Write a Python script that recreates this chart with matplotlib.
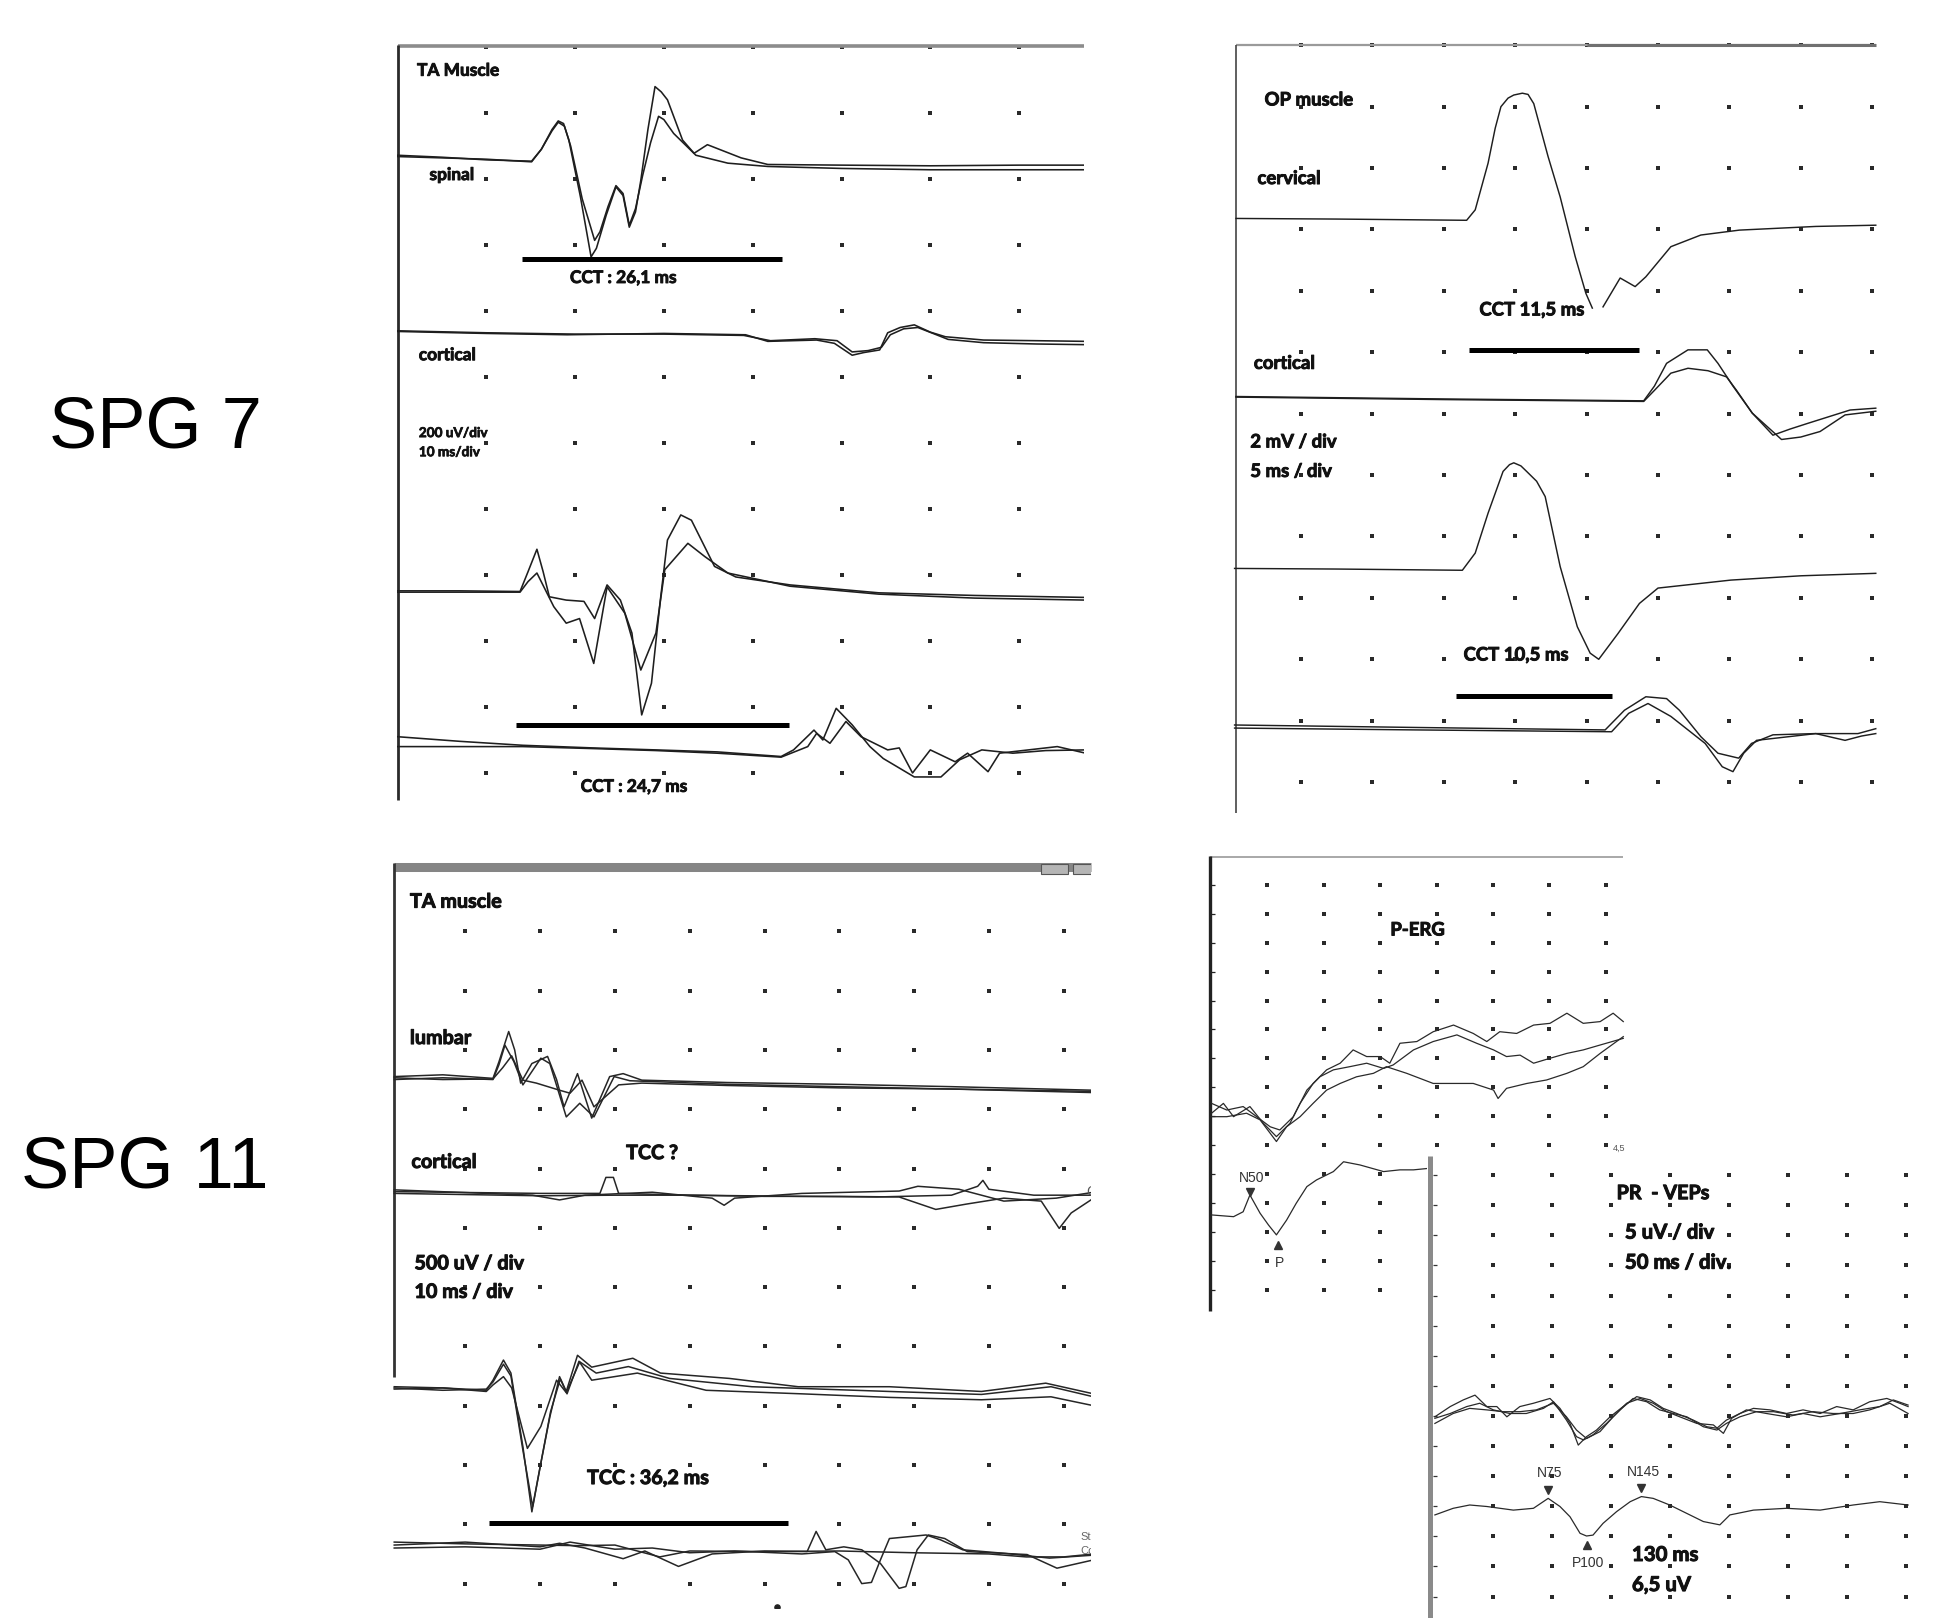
import numpy as np
import matplotlib.pyplot as plt
import matplotlib.patheffects as pe
from matplotlib import font_manager
from matplotlib.patches import Rectangle

W, H = 1937, 1618


def weight_of(f):
    w = f.weight
    if isinstance(w, str):
        w = font_manager.weight_dict.get(w, 400)
    return w


bold_fonts = {f.name for f in font_manager.fontManager.ttflist if weight_of(f) >= 600}
all_fonts = {f.name for f in font_manager.fontManager.ttflist}
BOLD, SCALE = 'DejaVu Sans', 0.78
for name, sc in [('Lato', 0.89), ('Roboto', 0.88), ('Open Sans', 0.82), ('Noto Sans', 0.82),
                 ('Liberation Sans Narrow', 1.0)]:
    if name in bold_fonts:
        BOLD, SCALE = name, sc
        break
PLAIN = 'Liberation Sans' if 'Liberation Sans' in all_fonts else 'DejaVu Sans'

# ---------------------------------------------------------------
# traces: (x, y) in grid divisions,
# x to the right from the panel origin, y downwards from the top border
# ---------------------------------------------------------------

# SPG 7 - TA muscle (200 uV/div, 10 ms/div)
spinal_a = [(0.0, 1.66), (0.5, 1.68), (1.0, 1.70), (1.51, 1.74), (1.62, 1.55), (1.74, 1.25), (1.81, 1.12),
            (1.87, 1.16), (1.93, 1.41), (2.06, 2.27), (2.18, 3.18), (2.24, 3.05), (2.35, 2.55), (2.46, 2.12),
            (2.54, 2.25), (2.61, 2.73), (2.68, 2.50), (2.74, 2.02), (2.82, 1.25), (2.90, 0.60), (2.97, 0.68),
            (3.04, 0.80), (3.21, 1.41), (3.34, 1.61), (3.49, 1.48), (3.87, 1.68), (4.17, 1.78), (5.0, 1.79),
            (6.0, 1.80), (7.0, 1.79), (7.75, 1.79)]
spinal_b = [(0.0, 1.64), (0.5, 1.67), (1.0, 1.71), (1.51, 1.73), (1.62, 1.55), (1.74, 1.27), (1.81, 1.14),
            (1.88, 1.20), (1.95, 1.50), (2.08, 2.30), (2.22, 2.93), (2.28, 2.80), (2.37, 2.42), (2.46, 2.10),
            (2.54, 2.22), (2.61, 2.70), (2.68, 2.45), (2.76, 1.95), (2.85, 1.45), (2.94, 1.05), (3.00, 1.10),
            (3.11, 1.31), (3.36, 1.64), (3.72, 1.76), (4.17, 1.81), (5.0, 1.84), (6.0, 1.86), (7.0, 1.86),
            (7.75, 1.86)]
cort7_a = [(0.0, 4.31), (1.0, 4.34), (1.91, 4.36), (3.0, 4.34), (3.92, 4.36), (4.17, 4.46), (4.72, 4.44),
           (4.92, 4.49), (5.12, 4.67), (5.25, 4.63), (5.43, 4.59), (5.52, 4.33), (5.66, 4.25), (5.82, 4.21),
           (6.0, 4.32), (6.17, 4.39), (6.6, 4.44), (7.2, 4.45), (7.75, 4.46)]
cort7_b = [(0.0, 4.30), (1.0, 4.33), (2.0, 4.35), (3.0, 4.35), (3.9, 4.37), (4.2, 4.45), (4.7, 4.42),
           (4.95, 4.45), (5.12, 4.62), (5.3, 4.60), (5.45, 4.55), (5.55, 4.36), (5.7, 4.27), (5.86, 4.25),
           (6.05, 4.35), (6.2, 4.43), (6.6, 4.48), (7.2, 4.50), (7.75, 4.51)]
spinal2_a = [(0.0, 8.24), (0.7, 8.24), (1.38, 8.25), (1.47, 7.95), (1.57, 7.61), (1.64, 7.95), (1.71, 8.33),
             (1.90, 8.38), (2.10, 8.40), (2.22, 8.66), (2.36, 8.15), (2.51, 8.38), (2.64, 8.88), (2.75, 10.12),
             (2.86, 9.64), (2.96, 8.38), (3.04, 7.47), (3.19, 7.09), (3.31, 7.17), (3.57, 7.87), (3.81, 8.03),
             (4.42, 8.15), (5.42, 8.27), (6.5, 8.31), (7.75, 8.34)]
spinal2_b = [(0.0, 8.26), (0.7, 8.26), (1.38, 8.26), (1.47, 8.10), (1.57, 7.97), (1.76, 8.48), (1.90, 8.73),
             (2.05, 8.66), (2.21, 9.34), (2.36, 8.18), (2.56, 8.58), (2.74, 9.44), (2.91, 8.88), (3.01, 7.92),
             (3.27, 7.52), (3.46, 7.72), (3.72, 7.97), (4.42, 8.17), (5.42, 8.29), (6.5, 8.35), (7.75, 8.38)]
cort7c_a = [(0.0, 10.45), (0.7, 10.52), (1.41, 10.58), (2.2, 10.62), (2.91, 10.65), (3.6, 10.68), (4.32, 10.75),
            (4.46, 10.65), (4.69, 10.35), (4.79, 10.50), (4.94, 10.02), (5.12, 10.27), (5.32, 10.60),
            (5.47, 10.78), (5.82, 11.06), (6.12, 11.06), (6.33, 10.80), (6.58, 10.65), (6.93, 10.70),
            (7.3, 10.66), (7.75, 10.65)]
cort7c_b = [(0.0, 10.60), (0.7, 10.60), (1.41, 10.60), (2.2, 10.63), (2.91, 10.66), (3.6, 10.70), (4.32, 10.76),
            (4.62, 10.60), (4.72, 10.40), (4.87, 10.55), (5.05, 10.22), (5.22, 10.45), (5.52, 10.65),
            (5.65, 10.62), (5.80, 11.00), (6.00, 10.65), (6.28, 10.83), (6.42, 10.70), (6.65, 10.98),
            (6.78, 10.70), (7.43, 10.60), (7.75, 10.70)]
cct_ta7 = [(1.40, 4.33, 3.21), (1.33, 4.41, 10.27)]   # (start, end, level)

# SPG 7 - OP muscle (2 mV/div, 5 ms/div)
cerv_1 = [(0.09, 2.82), (1.5, 2.83), (3.32, 2.85), (3.44, 2.68), (3.62, 1.92), (3.72, 1.35), (3.80, 1.00),
          (3.90, 0.86), (3.98, 0.81), (4.10, 0.78), (4.18, 0.80), (4.26, 0.95), (4.46, 1.81), (4.63, 2.47),
          (4.84, 3.44), (4.99, 4.04), (5.08, 4.28)]
cerv_2 = [(5.23, 4.26), (5.47, 3.79), (5.68, 3.93), (5.83, 3.77), (6.18, 3.28), (6.60, 3.09), (7.14, 3.01),
          (8.21, 2.95), (9.05, 2.93)]
cortop_a = [(0.09, 5.72), (3.0, 5.76), (5.80, 5.79), (5.95, 5.55), (6.12, 5.18), (6.42, 4.96), (6.69, 4.96),
            (6.84, 5.18), (7.05, 5.55), (7.32, 5.99), (7.61, 6.35), (7.85, 6.25), (8.09, 6.16), (8.69, 5.94),
            (9.05, 5.91)]
cortop_b = [(0.09, 5.73), (3.0, 5.77), (5.80, 5.80), (5.95, 5.62), (6.18, 5.34), (6.42, 5.26), (6.70, 5.30),
            (6.96, 5.40), (7.10, 5.62), (7.32, 5.99), (7.73, 6.42), (8.0, 6.38), (8.27, 6.29), (8.62, 6.02),
            (9.05, 5.96)]
cerv2 = [(0.07, 8.52), (1.5, 8.53), (3.26, 8.55), (3.44, 8.27), (3.62, 7.62), (3.83, 6.94), (3.92, 6.83),
         (3.98, 6.80), (4.08, 6.85), (4.16, 6.94), (4.30, 7.10), (4.42, 7.35), (4.63, 8.49), (4.87, 9.47),
         (5.05, 9.90), (5.17, 10.00), (5.44, 9.58), (5.74, 9.09), (6.00, 8.84), (7.02, 8.71), (8.0, 8.64),
         (9.05, 8.60)]
cortop2_a = [(0.07, 11.07), (2.6, 11.11), (5.26, 11.15), (5.53, 10.83), (5.83, 10.61), (6.12, 10.64),
             (6.30, 10.83), (6.60, 11.26), (6.84, 11.53), (7.13, 11.61), (7.31, 11.37), (7.61, 11.23),
             (8.2, 11.21), (8.80, 11.21), (9.05, 11.13)]
cortop2_b = [(0.07, 11.12), (2.6, 11.15), (5.35, 11.18), (5.59, 10.88), (5.86, 10.72), (6.18, 10.93),
             (6.66, 11.37), (6.90, 11.75), (7.05, 11.83), (7.20, 11.53), (7.38, 11.32), (8.21, 11.21),
             (8.62, 11.32), (8.85, 11.25), (9.05, 11.21)]
cct_op7 = [(3.35, 5.73, 4.97), (3.17, 5.35, 10.60)]

# SPG 11 - TA muscle (500 uV/div, 10 ms/div)
lumbar_a = [(0.05, 3.45), (0.7, 3.42), (1.37, 3.48), (1.45, 3.20), (1.58, 2.69), (1.66, 3.00), (1.74, 3.56),
            (1.89, 3.23), (2.10, 3.11), (2.22, 3.50), (2.32, 3.96), (2.50, 3.40), (2.69, 4.15), (2.93, 3.45),
            (3.11, 3.40), (3.36, 3.51), (4.5, 3.55), (6.0, 3.58), (7.5, 3.62), (9.40, 3.68)]
lumbar_b = [(0.05, 3.50), (0.7, 3.47), (1.37, 3.50), (1.45, 3.25), (1.53, 2.92), (1.65, 3.20), (1.77, 3.59),
            (2.01, 3.14), (2.13, 3.23), (2.35, 4.13), (2.53, 3.90), (2.72, 4.13), (2.99, 3.45), (3.20, 3.52),
            (4.5, 3.58), (6.0, 3.62), (7.5, 3.66), (9.40, 3.72)]
lumbar_c = [(0.05, 3.47), (0.7, 3.50), (1.37, 3.49), (1.50, 3.30), (1.62, 3.10), (1.77, 3.51), (1.95, 3.56),
            (2.26, 3.68), (2.40, 3.73), (2.56, 3.51), (2.72, 3.96), (3.05, 3.59), (3.36, 3.56), (4.5, 3.60),
            (6.0, 3.64), (7.5, 3.66), (9.40, 3.70)]
cort11_a = [(0.05, 5.39), (2.0, 5.42), (2.80, 5.42), (2.88, 5.15), (2.98, 5.15), (3.05, 5.42), (4.0, 5.45),
            (5.5, 5.47), (6.5, 5.48), (7.5, 5.45), (7.85, 5.30), (7.92, 5.20), (8.0, 5.35), (8.6, 5.45),
            (9.40, 5.45)]
cort11_b = [(0.05, 5.36), (1.9, 5.45), (2.26, 5.53), (2.6, 5.45), (3.5, 5.40), (4.3, 5.50), (4.46, 5.62),
            (4.6, 5.50), (5.5, 5.42), (6.8, 5.38), (7.05, 5.30), (7.6, 5.35), (8.2, 5.55), (8.9, 5.50),
            (9.40, 5.40)]
cort11_c = [(0.05, 5.42), (2.0, 5.46), (3.0, 5.45), (4.0, 5.45), (5.0, 5.47), (6.0, 5.47), (6.8, 5.48),
            (7.29, 5.69), (7.7, 5.60), (8.2, 5.50), (8.7, 5.55), (8.94, 6.01), (9.1, 5.75), (9.40, 5.50)]
lumbar2_a = [(0.05, 8.68), (0.7, 8.70), (1.28, 8.74), (1.37, 8.57), (1.51, 8.23), (1.61, 8.45), (1.77, 9.69),
             (1.89, 10.79), (2.01, 9.97), (2.13, 9.19), (2.26, 8.51), (2.35, 8.76), (2.50, 8.15), (2.69, 8.35),
             (3.24, 8.20), (3.61, 8.45), (4.53, 8.54), (5.45, 8.68), (6.67, 8.68), (7.90, 8.76), (8.76, 8.62),
             (9.40, 8.80)]
lumbar2_b = [(0.05, 8.72), (0.7, 8.70), (1.28, 8.76), (1.37, 8.65), (1.51, 8.51), (1.62, 8.70), (1.83, 9.72),
             (2.01, 9.35), (2.22, 8.57), (2.35, 8.78), (2.53, 8.26), (2.75, 8.45), (3.18, 8.34), (3.73, 8.54),
             (4.83, 8.68), (6.67, 8.76), (7.90, 8.81), (8.83, 8.68), (9.40, 8.85)]
lumbar2_c = [(0.05, 8.70), (0.7, 8.74), (1.28, 8.72), (1.37, 8.60), (1.51, 8.30), (1.61, 8.50), (1.77, 9.75),
             (1.90, 10.70), (2.02, 9.90), (2.14, 9.10), (2.27, 8.55), (2.36, 8.80), (2.52, 8.25), (2.69, 8.57),
             (3.3, 8.45), (4.22, 8.74), (5.5, 8.80), (6.67, 8.86), (7.90, 8.90), (8.83, 8.85), (9.40, 9.00)]
cort11c_a = [(0.05, 11.35), (1.0, 11.30), (2.0, 11.38), (2.26, 11.32), (2.6, 11.40), (3.11, 11.58),
             (3.4, 11.45), (3.85, 11.71), (4.3, 11.50), (5.0, 11.45), (5.57, 11.46), (5.69, 11.12),
             (5.82, 11.43), (6.06, 11.38), (6.30, 11.43), (6.55, 11.66), (6.80, 12.08), (6.89, 12.05),
             (7.04, 11.43), (7.19, 11.18), (7.41, 11.24), (7.71, 11.46), (8.51, 11.51), (8.91, 11.74),
             (9.40, 11.60)]
cort11c_b = [(0.05, 11.40), (1.0, 11.38), (2.0, 11.42), (2.4, 11.30), (3.0, 11.42), (3.5, 11.40), (4.0, 11.48),
             (4.6, 11.45), (5.5, 11.50), (5.94, 11.46), (6.12, 11.60), (6.30, 12.00), (6.43, 11.98),
             (6.55, 11.60), (6.67, 11.24), (7.16, 11.18), (7.35, 11.26), (7.65, 11.43), (8.21, 11.49),
             (8.81, 11.57), (9.40, 11.52)]
cort11c_c = [(0.05, 11.30), (1.0, 11.33), (2.0, 11.35), (2.5, 11.36), (3.0, 11.35), (3.6, 11.55), (4.0, 11.45),
             (5.0, 11.46), (6.0, 11.45), (7.0, 11.48), (8.0, 11.50), (8.5, 11.55), (9.0, 11.55), (9.40, 11.50)]
tcc_ta11 = [(1.32, 5.31, 10.98)]

# SPG 11 - pattern ERG
perg_a = [(0.01, 8.90), (0.22, 8.56), (0.40, 9.02), (0.69, 8.67), (0.93, 9.25), (1.16, 9.71), (1.40, 9.25),
          (1.58, 8.56), (1.81, 7.87), (2.05, 7.40), (2.29, 7.17), (2.52, 6.71), (2.76, 6.94), (3.00, 6.94),
          (3.17, 7.17), (3.35, 6.48), (3.65, 6.42), (3.94, 6.08), (4.30, 5.85), (4.65, 6.14), (4.89, 6.42),
          (5.12, 6.08), (5.42, 6.14), (5.72, 5.85), (6.01, 5.79), (6.31, 5.44), (6.60, 5.79), (6.90, 5.73),
          (7.13, 5.44), (7.31, 5.73)]
perg_b = [(0.01, 8.56), (0.28, 8.79), (0.57, 8.67), (0.81, 9.02), (1.05, 9.37), (1.22, 9.48), (1.46, 9.02),
          (1.70, 8.10), (1.93, 7.64), (2.17, 7.40), (2.46, 7.29), (2.76, 7.17), (3.06, 7.35), (3.23, 7.23),
          (3.59, 6.71), (3.94, 6.42), (4.36, 6.19), (4.71, 6.48), (5.01, 6.71), (5.24, 6.94), (5.48, 6.89),
          (5.72, 7.17), (6.01, 7.00), (6.31, 6.83), (6.60, 6.71), (6.90, 6.54), (7.31, 6.31)]
perg_c = [(0.01, 9.02), (0.28, 9.02), (0.63, 8.90), (0.87, 9.13), (1.16, 9.88), (1.34, 9.37), (1.58, 9.02),
          (1.81, 8.56), (2.05, 8.10), (2.29, 7.87), (2.58, 7.64), (2.88, 7.52), (3.11, 7.29), (3.47, 7.52),
          (3.94, 7.87), (4.30, 7.87), (4.65, 7.87), (5.01, 8.10), (5.09, 8.39), (5.24, 8.04), (5.60, 7.87),
          (5.95, 7.75), (6.31, 7.52), (6.60, 7.29), (6.90, 6.83), (7.31, 6.25)]
perg_avg = [(0.01, 12.42), (0.40, 12.48), (0.57, 12.31), (0.69, 11.73), (0.87, 12.36), (1.02, 12.77),
            (1.16, 13.11), (1.34, 12.60), (1.51, 12.02), (1.70, 11.44), (1.87, 11.21), (2.17, 10.92),
            (2.35, 10.58), (2.64, 10.69), (3.06, 10.92), (3.35, 10.86), (3.59, 10.86), (3.85, 10.81)]
perg_peaks = [('N50', 0.69, 11.61, 'v'), ('P', 1.18, 13.46, '^')]

# SPG 11 - pattern reversal VEPs (5 uV/div, 50 ms/div)
vep_a = [(0.01, 9.03), (0.27, 8.69), (0.49, 8.47), (0.69, 8.31), (0.89, 8.69), (1.06, 8.69), (1.23, 9.03),
         (1.45, 8.69), (1.68, 8.58), (1.96, 8.42), (2.13, 8.75), (2.30, 9.25), (2.44, 9.97), (2.58, 9.69),
         (2.75, 9.47), (2.98, 9.03), (3.20, 8.69), (3.43, 8.36), (3.66, 8.47), (3.88, 8.75), (4.11, 8.92),
         (4.39, 9.14), (4.62, 9.36), (4.79, 9.41), (4.95, 9.14), (5.18, 8.92), (5.41, 8.75), (5.69, 8.80),
         (5.97, 8.92), (6.25, 8.80), (6.54, 8.92), (6.82, 8.69), (7.10, 8.80), (7.38, 8.53), (7.67, 8.42),
         (7.89, 8.58), (8.03, 8.69)]
vep_b = [(0.01, 9.25), (0.32, 8.92), (0.60, 8.75), (0.89, 8.80), (1.17, 8.86), (1.45, 8.86), (1.73, 8.80),
         (2.02, 8.58), (2.24, 9.03), (2.41, 9.47), (2.58, 9.75), (2.81, 9.52), (3.03, 9.03), (3.26, 8.58),
         (3.49, 8.42), (3.71, 8.58), (3.94, 8.86), (4.16, 9.03), (4.45, 9.25), (4.73, 9.30), (4.90, 9.58),
         (5.04, 9.08), (5.29, 8.80), (5.63, 8.92), (5.97, 9.03), (6.25, 8.92), (6.54, 9.03), (6.88, 8.92),
         (7.21, 8.80), (7.55, 8.69), (7.78, 8.47), (8.03, 8.64)]
vep_c = [(0.01, 9.08), (0.27, 8.92), (0.55, 8.69), (0.77, 8.58), (1.00, 8.80), (1.28, 8.92), (1.56, 8.92),
         (1.85, 8.75), (2.02, 8.53), (2.24, 9.14), (2.41, 9.69), (2.53, 9.80), (2.69, 9.63), (2.92, 9.25),
         (3.15, 8.80), (3.37, 8.42), (3.60, 8.53), (3.82, 8.80), (4.05, 8.92), (4.28, 9.03), (4.56, 9.36),
         (4.79, 9.47), (4.95, 9.25), (5.18, 9.03), (5.46, 8.86), (5.75, 8.86), (6.08, 8.97), (6.42, 8.86),
         (6.76, 8.92), (7.10, 8.92), (7.38, 8.80), (7.72, 8.58), (8.03, 8.92)]
vep_avg = [(0.01, 12.29), (0.32, 12.07), (0.60, 11.96), (0.89, 12.01), (1.34, 12.13), (1.68, 12.07),
           (1.93, 11.74), (2.13, 12.01), (2.30, 12.35), (2.47, 12.90), (2.58, 12.99), (2.69, 12.96),
           (2.86, 12.57), (3.09, 12.18), (3.32, 11.85), (3.51, 11.68), (3.71, 11.74), (3.99, 11.96),
           (4.28, 12.24), (4.56, 12.51), (4.84, 12.62), (5.01, 12.29), (5.41, 12.13), (5.97, 12.07),
           (6.54, 12.13), (7.10, 11.96), (7.55, 11.85), (8.03, 11.96)]
vep_peaks = [('N75', 1.92, 11.46, 'v'), ('N145', 3.51, 11.41, 'v'), ('P100', 2.58, 13.29, '^')]

# ---------------------------------------------------------------

fig = plt.figure(figsize=(W / 100, H / 100), dpi=100)
fig.patch.set_facecolor('white')


def panel(box, origin, div):
    L, T, R, B = box
    ax = fig.add_axes([L / W, 1 - B / H, (R - L) / W, (B - T) / H])
    ax.set_xlim((L - origin[0]) / div[0], (R - origin[0]) / div[0])
    ax.set_ylim((B - origin[1]) / div[1], (T - origin[1]) / div[1])
    ax.set_xticks([])
    ax.set_yticks([])
    for s in ax.spines.values():
        s.set_visible(False)
    ax.set_facecolor('white')
    return ax


def dots(ax, ncol, row0, row1):
    gx, gy = np.meshgrid(np.arange(1, ncol + 1), np.arange(row0, row1 + 1))
    ax.scatter(gx.ravel(), gy.ravel(), s=5.5, marker='s', color='#2a2a2a', linewidths=0, zorder=1)


def trace(ax, pts, lw=1.05, color='#1e1e1e'):
    xs, ys = zip(*pts)
    ax.plot(xs, ys, color=color, lw=lw, solid_joinstyle='round', zorder=3)


def bars(ax, spans):
    for x0, x1, y in spans:
        ax.plot([x0, x1], [y, y], color='black', lw=3.6, solid_capstyle='butt', zorder=4)


def label(ax, x, y, s, size, ha='left'):
    stroke = [pe.withStroke(linewidth=0.045 * size, foreground='#111111')]
    ax.text(x, y, s, fontsize=size * SCALE, family=[BOLD, 'DejaVu Sans'], fontweight='bold',
            ha=ha, va='center', color='#111111', zorder=5, path_effects=stroke)


def line(ax, xs, ys, color, lw):
    ax.plot(xs, ys, color=color, lw=lw, solid_capstyle='butt', clip_on=False, zorder=2)


# ---- SPG 7, TA muscle ----
axA = panel((397, 44, 1084, 806), (397.5, 47), (88.8, 66))
dots(axA, 7, 0, 11)
line(axA, [0.0, 7.73], [-0.02, -0.02], '#8c8c8c', 2.6)
line(axA, [0.006, 0.006], [-0.03, 11.41], '#2a2a2a', 2.0)
for pts in (spinal_a, spinal_b, cort7_a, cort7_b, spinal2_a, spinal2_b, cort7c_a, cort7c_b):
    trace(axA, pts, lw=1.15)
bars(axA, cct_ta7)
label(axA, 0.22, 0.36, 'TA Muscle', 14)
label(axA, 0.36, 1.94, 'spinal', 14)
label(axA, 2.54, 3.50, 'CCT : 26,1 ms', 14, ha='center')
label(axA, 0.24, 4.67, 'cortical', 14)
label(axA, 0.24, 5.85, '200 uV/div', 11)
label(axA, 0.24, 6.14, '10 ms/div', 11)
label(axA, 2.66, 11.21, 'CCT : 24,7 ms', 14, ha='center')

# ---- SPG 7, OP muscle ----
axB = panel((1233, 43, 1877, 818), (1229.6, 45.3), (71.4, 61.4))
dots(axB, 9, 0, 12)
line(axB, [0.09, 9.05], [0.0, 0.0], '#9a9a9a', 1.6)
line(axB, [5.0, 9.05], [0.0, 0.0], '#707070', 2.2)
line(axB, [0.09, 0.09], [0.0, 12.5], '#444444', 1.2)
for pts in (cerv_1, cerv_2, cortop_a, cortop_b, cerv2, cortop2_a, cortop2_b):
    trace(axB, pts)
bars(axB, cct_op7)
label(axB, 0.49, 0.89, 'OP muscle', 15)
label(axB, 0.39, 2.17, 'cervical', 15)
label(axB, 4.23, 4.31, 'CCT 11,5 ms', 15, ha='center')
label(axB, 0.34, 5.18, 'cortical', 15)
label(axB, 0.29, 6.46, '2 mV / div', 15)
label(axB, 0.29, 6.94, '5 ms / div', 15)
label(axB, 4.01, 9.93, 'CCT 10,5 ms', 15, ha='center')

# ---- SPG 11, TA muscle ----
axC = panel((391, 861, 1091, 1608), (390.5, 872), (74.8, 59.3))
dots(axC, 9, 1, 12)
line(axC, [0.05, 9.37], [-0.084, -0.084], '#858585', 6.5)
line(axC, [0.05, 0.05], [-0.15, 8.52], '#333333', 2.0)
axC.add_patch(Rectangle((8.70, -0.135), 0.36, 0.17, facecolor='#b5b5b5', edgecolor='#555555', lw=0.8,
                        zorder=3, clip_on=False))
axC.add_patch(Rectangle((9.12, -0.135), 0.30, 0.17, facecolor='#b5b5b5', edgecolor='#555555', lw=0.8,
                        zorder=3, clip_on=True))
for pts in (lumbar_a, lumbar_b, lumbar_c, cort11_a, cort11_b, cort11_c,
            lumbar2_a, lumbar2_b, lumbar2_c, cort11c_a, cort11c_b, cort11c_c):
    trace(axC, pts, lw=1.1, color='#262626')
bars(axC, tcc_ta11)
axC.scatter([5.17], [12.39], s=14, color='#222222', zorder=3)
label(axC, 0.26, 0.50, 'TA muscle', 16)
label(axC, 0.26, 2.80, 'lumbar', 16)
label(axC, 0.28, 4.89, 'cortical', 16)
label(axC, 3.15, 4.74, 'TCC ?', 16)
label(axC, 0.32, 6.60, '500 uV / div', 16)
label(axC, 0.32, 7.08, '10 ms / div', 16)
label(axC, 3.44, 10.22, 'TCC : 36,2 ms', 16, ha='center')
axC.text(9.30, 5.40, 'C', fontsize=10, family=PLAIN, color='#555555', va='center', clip_on=True)
axC.text(9.22, 11.22, 'St', fontsize=8, family=PLAIN, color='#666666', va='center', clip_on=True)
axC.text(9.22, 11.45, 'Co', fontsize=8, family=PLAIN, color='#666666', va='center', clip_on=True)

# ---- SPG 11, P-ERG ----
axD = panel((1207, 854, 1626, 1318), (1211, 856), (56.4, 28.9))
dots(axD, 7, 1, 15)
line(axD, [-0.02, 7.30], [0.03, 0.03], '#9a9a9a', 1.2)
line(axD, [-0.02, -0.02], [0.0, 15.76], '#222222', 2.4)
for r in range(1, 16):
    line(axD, [-0.02, 0.07], [r, r], '#222222', 0.9)
for pts in (perg_a, perg_b, perg_c):
    trace(axD, pts, lw=0.9, color='#2a2a2a')
trace(axD, perg_avg, lw=0.9, color='#2a2a2a')
for name, x, y, m in perg_peaks:
    axD.plot([x], [y], marker=m, ms=6, color='#333333', zorder=4)
axD.text(0.72, 11.15, 'N50', fontsize=10, family=PLAIN, color='#333333', ha='center', va='center')
axD.text(1.22, 14.09, 'P', fontsize=10, family=PLAIN, color='#333333', ha='center', va='center')
axD.text(7.13, 10.11, '4,5', fontsize=6.5, family=PLAIN, color='#555555', va='center', clip_on=True)
label(axD, 3.66, 2.56, 'P-ERG', 15, ha='center')

# ---- SPG 11, PR-VEPs (covers the lower right of the ERG scan) ----
axE = panel((1427, 1156, 1912, 1618), (1434.3, 1145), (59, 30.1))
dots(axE, 8, 1, 15)
line(axE, [-0.073, -0.073], [0.37, 15.8], '#8a8a8a', 3.6)
for r in range(1, 16):
    line(axE, [-0.03, 0.04], [r, r], '#333333', 0.9)
for pts in (vep_a, vep_b, vep_c):
    trace(axE, pts, lw=0.9, color='#2a2a2a')
trace(axE, vep_avg, lw=0.9, color='#2a2a2a')
for name, x, y, m in vep_peaks:
    axE.plot([x], [y], marker=m, ms=6, color='#333333', zorder=4)
axE.text(1.96, 10.91, 'N75', fontsize=10, family=PLAIN, color='#333333', ha='center', va='center')
axE.text(3.54, 10.86, 'N145', fontsize=10, family=PLAIN, color='#333333', ha='center', va='center')
axE.text(2.61, 13.90, 'P100', fontsize=10, family=PLAIN, color='#333333', ha='center', va='center')
label(axE, 3.09, 1.60, 'PR  - VEPs', 16)
label(axE, 3.23, 2.91, '5 uV / div', 16.5)
label(axE, 3.23, 3.91, '50 ms / div.', 16.5)
label(axE, 3.35, 13.62, '130 ms', 16.5)
label(axE, 3.35, 14.62, '6,5 uV', 16.5)

# ---- row labels ----
fig.text(49 / W, 1 - 447 / H, 'SPG 7', fontsize=52, family=[PLAIN, 'DejaVu Sans'], ha='left', va='baseline')
fig.text(21 / W, 1 - 1188 / H, 'SPG 11', fontsize=52, family=[PLAIN, 'DejaVu Sans'], ha='left', va='baseline')

fig.savefig('out.png', dpi=100, facecolor='white')
